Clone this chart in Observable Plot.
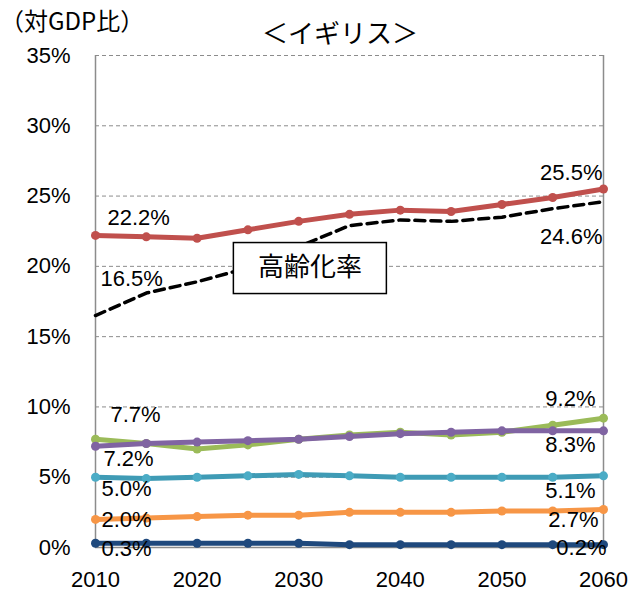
<!DOCTYPE html>
<html><head><meta charset="utf-8">
<script src="https://cdn.jsdelivr.net/npm/d3@7"></script>
<script src="https://cdn.jsdelivr.net/npm/@observablehq/plot@0.6"></script>
<style>
body{margin:0;background:#fff;}
#wrap{position:relative;width:631px;height:595px;}
#unit{position:absolute;left:0px;top:8px;font-size:24px;line-height:24px;font-family:"Noto Sans CJK JP";white-space:nowrap;}
#title{position:absolute;left:340px;transform:translateX(-50%);top:19px;font-size:26px;line-height:26px;font-family:"Noto Sans CJK JP";white-space:nowrap;}
#wrap svg{position:absolute;left:0;top:0;}
</style></head><body>
<div id="wrap"><div id="unit">（対GDP比）</div><div id="title">＜イギリス＞</div></div>
<script>
// ---- data ----
const years = [2010, 2015, 2020, 2025, 2030, 2035, 2040, 2045, 2050, 2055, 2060];
const total  = [22.2, 22.1, 22.0, 22.6, 23.2, 23.7, 24.0, 23.9, 24.4, 24.9, 25.5];
const aging  = [16.5, 18.1, 18.9, 19.9, 21.4, 22.9, 23.3, 23.2, 23.5, 24.1, 24.6];
const green  = [7.7, 7.4, 7.0, 7.3, 7.7, 8.0, 8.2, 8.0, 8.2, 8.7, 9.2];
const purple = [7.2, 7.4, 7.5, 7.6, 7.7, 7.9, 8.1, 8.2, 8.3, 8.3, 8.3];
const teal   = [5.0, 4.9, 5.0, 5.1, 5.2, 5.1, 5.0, 5.0, 5.0, 5.0, 5.1];
const orange = [2.0, 2.1, 2.2, 2.3, 2.3, 2.5, 2.5, 2.5, 2.6, 2.6, 2.7];
const navy   = [0.3, 0.3, 0.3, 0.3, 0.3, 0.2, 0.2, 0.2, 0.2, 0.2, 0.2];
const xTicks = [2010, 2020, 2030, 2040, 2050, 2060];
const yTicks = [0, 5, 10, 15, 20, 25, 30, 35];
const annotation = [{year: 2031.1, value: 19.88, label: "高齢化率"}];

// ---- styles ----
const colored = [
  {key: "green",  values: green,  line: "#9BBB59", dot: "#9BBB59", r: 4.5},
  {key: "purple", values: purple, line: "#8064A2", dot: "#8064A2", r: 4.5},
  {key: "teal",   values: teal,   line: "#3F9BB5", dot: "#4BACC6", r: 4.5},
  {key: "orange", values: orange, line: "#F79646", dot: "#F79646", r: 4.5},
  {key: "navy",   values: navy,   line: "#1F497D", dot: "#1F497D", r: 4.5},
  {key: "total",  values: total,  line: "#C0504D", dot: "#C0504D", r: 4.5}
];
const labelOffsets = {
  total:  {start: [12, -17], end: [-1, -16]},
  aging:  {start: [5, -37],  end: [-1, 35]},
  green:  {start: [15, -24], end: [-8, -19]},
  purple: {start: [8, 13],   end: [-8, 14]},
  teal:   {start: [6, 12],   end: [-8, 15]},
  orange: {start: [6, 1],    end: [-5, 10]},
  navy:   {start: [6, 6],    end: [3, 3]}
};
const gray = "#8c8c8c";
const numFont = "Liberation Sans";
const toRows = vals => years.map((y, i) => ({year: y, value: vals[i]}));
const fmt = v => v.toFixed(1) + "%";

const marks = [
  Plot.gridY(yTicks.filter(d => d > 0), {stroke: gray, strokeOpacity: 1, strokeWidth: 1, strokeDasharray: "4,3"}),
  Plot.ruleX([years[0], years[years.length - 1]], {stroke: gray, strokeWidth: 1.5}),
  Plot.ruleY([yTicks[0]], {stroke: gray, strokeWidth: 1.5}),
  Plot.axisY(yTicks, {tickSize: 0, tickPadding: 25, tickFormat: d => d + "%", fontSize: 22, fontFamily: numFont, label: null}),
  Plot.axisX(xTicks, {tickSize: 0, tickPadding: 24, tickFormat: d => String(d), fontSize: 22, fontFamily: numFont, label: null}),
  Plot.line(toRows(aging), {x: "year", y: "value", stroke: "#000", strokeWidth: 3.5, strokeDasharray: "10,6"}),
  Plot.text(annotation, {
    x: "year", y: "value", text: "label", fontSize: 26, fontFamily: "Noto Sans CJK JP", fill: "#000",
    render(index, scales, values, dimensions, context, next) {
      const g = next(index, scales, values, dimensions, context);
      const i = index[0];
      const cx = values.x[i], cy = values.y[i];
      const w = 153, h = 51;
      const r = document.createElementNS("http://www.w3.org/2000/svg", "rect");
      r.setAttribute("x", cx - w / 2);
      r.setAttribute("y", cy - h / 2);
      r.setAttribute("width", w);
      r.setAttribute("height", h);
      r.setAttribute("fill", "#fff");
      r.setAttribute("stroke", "#000");
      r.setAttribute("stroke-width", "1.5");
      g.insertBefore(r, g.firstChild);
      return g;
    }
  })
];

for (const s of colored) {
  const rows = toRows(s.values);
  marks.push(Plot.line(rows, {x: "year", y: "value", stroke: s.line, strokeWidth: 5}));
  marks.push(Plot.dot(rows, {x: "year", y: "value", fill: s.dot, r: s.r}));
}

const labelSets = [
  {key: "total", values: total}, {key: "aging", values: aging}, {key: "green", values: green},
  {key: "purple", values: purple}, {key: "teal", values: teal}, {key: "orange", values: orange},
  {key: "navy", values: navy}
];
for (const s of labelSets) {
  const rows = toRows(s.values);
  const o = labelOffsets[s.key];
  marks.push(Plot.text([rows[0]], {x: "year", y: "value", text: d => fmt(d.value), textAnchor: "start",
    dx: o.start[0], dy: o.start[1], fontSize: 22, fontFamily: numFont, fill: "#000"}));
  marks.push(Plot.text([rows[rows.length - 1]], {x: "year", y: "value", text: d => fmt(d.value), textAnchor: "end",
    dx: o.end[0], dy: o.end[1], fontSize: 22, fontFamily: numFont, fill: "#000"}));
}

const chart = Plot.plot({
  width: 631, height: 595,
  marginLeft: 95, marginRight: 28, marginTop: 55, marginBottom: 48,
  style: {background: "transparent", color: "#000", fontFamily: numFont, fontSize: "22px", overflow: "visible"},
  x: {domain: [years[0], years[years.length - 1]]},
  y: {domain: [yTicks[0], yTicks[yTicks.length - 1]]},
  marks
});
document.getElementById("wrap").prepend(chart);
</script>
</body></html>
